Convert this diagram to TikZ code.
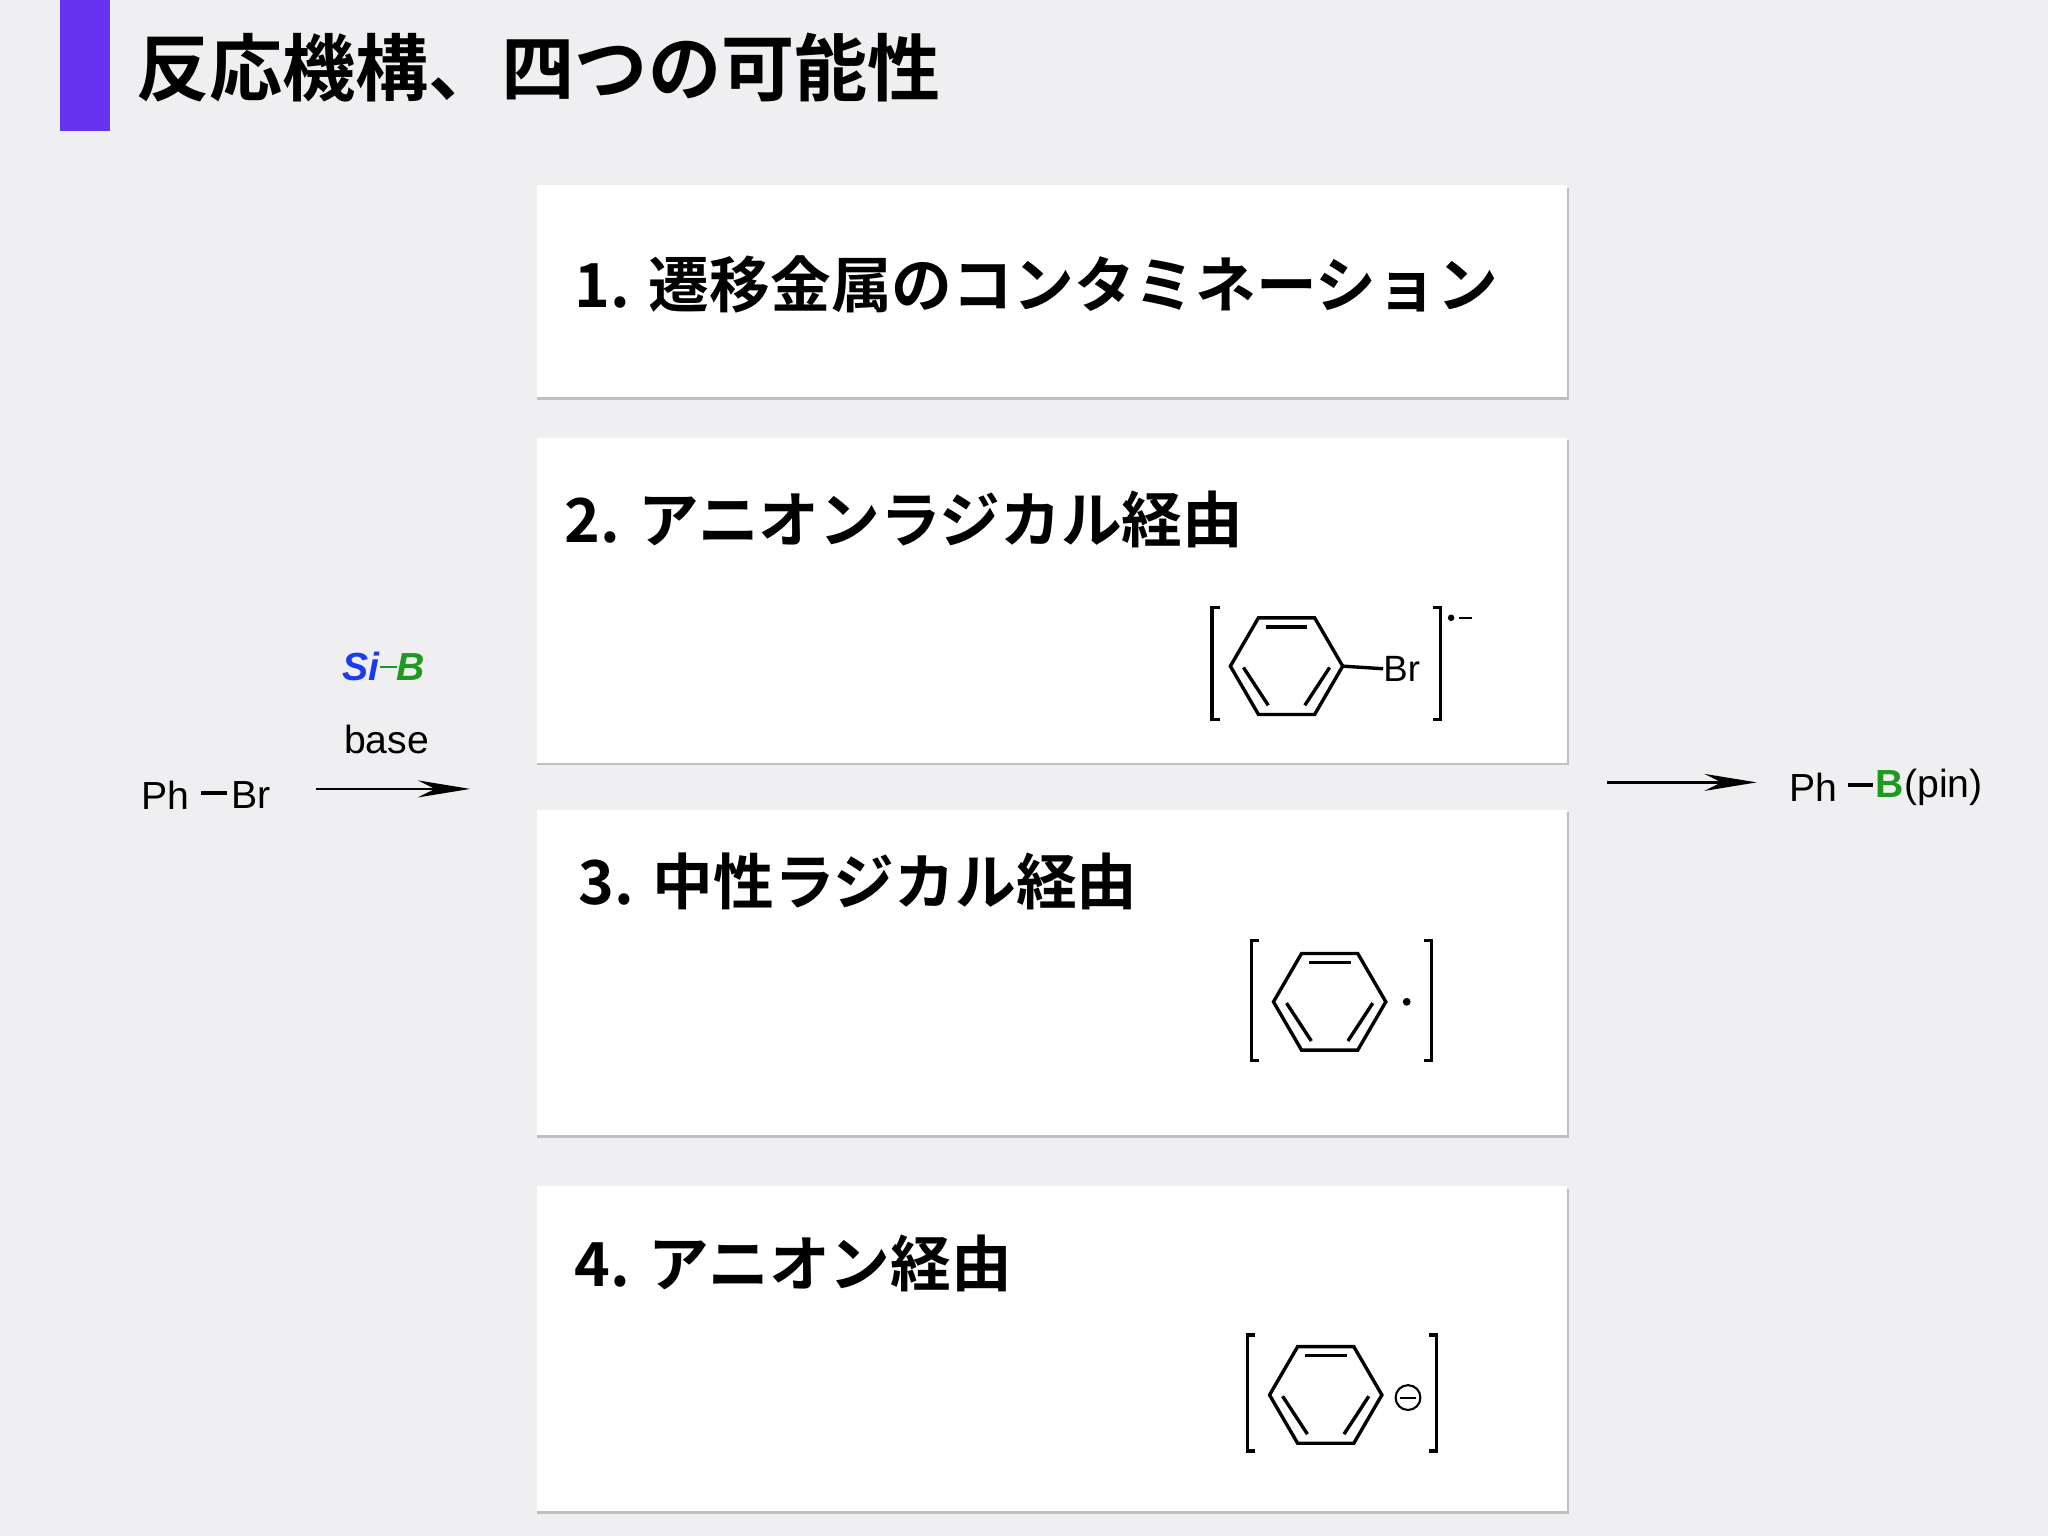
\documentclass[tikz,border=0pt]{standalone}
\usepackage{fontspec}
\setmainfont{Liberation Sans}
\newfontfamily\cjk{Noto Sans CJK JP}[BoldFont={* Bold}]
\usetikzlibrary{arrows.meta}
\definecolor{bg}{HTML}{EFEFF1}
\definecolor{bar}{HTML}{6633EE}
\definecolor{siblue}{HTML}{1A3BF0}
\definecolor{bgreen}{HTML}{1E9A1E}
\tikzset{
  card/.style={fill=white, draw=none},
  cardshadow/.style={fill=black!25, draw=none},
  head/.style={anchor=west, inner sep=0pt, font=\fontsize{46.5}{46}\selectfont\cjk\bfseries},
  lbl/.style={inner sep=0pt, font=\fontsize{30}{30}\selectfont},
  bond/.style={line width=2.6pt, line join=miter},
  brk/.style={line width=2.6pt},
  rxn/.style={line width=2pt, -{Stealth[length=40pt,width=13pt]}},
}
\newcommand{\benz}[2]{% center, name
  \begin{scope}[shift={#1}]
   \draw[bond] (-43,0)--(-21.5,37)--(21.5,37)--(43,0)--(21.5,-37)--(-21.5,-37)--cycle;
   \draw[bond] (-16,-30)--(16,-30);
   \draw[bond] (-33,1)--(-14,30) ;
   \draw[bond] (33,1)--(14,30);
   \coordinate (#2) at (43,0);
  \end{scope}}
\begin{document}
\begin{tikzpicture}[x=1pt,y=-1pt]
\fill[bg] (0,0) rectangle (1568,1176);
\useasboundingbox (0,0) rectangle (1568,1176);
\fill[bar] (46,0) rectangle (84,100);
\node[anchor=west, inner sep=0pt, font=\fontsize{56}{56}\selectfont\cjk\bfseries] (title) at (104,52) {反応機構、四つの可能性};
% cards
\foreach \t/\b in {142/304,335/584,620/869,908/1157}{
  \fill[cardshadow] (411,\t+2) rectangle (1201,\b+2);
  \fill[card] (411,\t) rectangle (1200,\b);
}
\node[head] (h1) at (440,218) {1. 遷移金属のコンタミネーション};
\node[head] (h2) at (432,398) {2. アニオンラジカル経由};
\node[head] (h3) at (443,675) {3. 中性ラジカル経由};
\node[head] (h4) at (440,967) {4. アニオン経由};
% structure 2
\benz{(985,510)}{c1}
\node[lbl, anchor=west, font=\fontsize{28}{28}\selectfont] (br) at (1059,512) {Br};
\draw[bond] (c1) -- (br.west);
\draw[brk] (934,465)--(928,465)--(928,551)--(934,551);
\draw[brk] (1097,465)--(1103,465)--(1103,551)--(1097,551);
\fill (1111,473) circle (2.5);
\draw[line width=2pt] (1117,473)--(1127,473);
% structure 3
\benz{(1018,767)}{c2}
\fill (1077,767) circle (3);
\draw[brk] (964,720)--(958,720)--(958,812)--(964,812);
\draw[brk] (1090,720)--(1096,720)--(1096,812)--(1090,812);
% structure 4
\benz{(1015,1068)}{c3}
\node[circle, draw, line width=1.6pt, minimum size=19pt, inner sep=0pt] (minus) at (1078,1070) {};
\draw[line width=1.6pt] (1072,1070)--(1084,1070);
\draw[brk] (961,1022)--(955,1022)--(955,1111)--(961,1111);
\draw[brk] (1094,1022)--(1100,1022)--(1100,1111)--(1094,1111);
% left reaction
\node[lbl, anchor=west] (ph) at (108,609) {Ph};
\draw[line width=3pt] (154,607)--(174,607);
\node[lbl, anchor=west] (phbr) at (177,609) {Br};
\coordinate (a1s) at (242,604);
\coordinate (a1e) at (360,604);
\draw[rxn] (a1s) -- (a1e);
\node[lbl, font=\fontsize{30}{30}\selectfont\bfseries\itshape] (sib) at (294,510) {\textcolor{siblue}{Si}\textcolor{bgreen}{\rule[9pt]{13pt}{2pt}B}};
\node[lbl] (base) at (296,566) {base};
% right
\coordinate (a2s) at (1230,599);
\coordinate (a2e) at (1345,599);
\draw[rxn] (a2s) -- (a2e);
\node[lbl, anchor=west] (ph2) at (1370,603) {Ph};
\draw[line width=3pt] (1415,601)--(1434,601);
\node[lbl, anchor=west] (bp) at (1436,603) {\textcolor{bgreen}{\bfseries B}(pin)};
\end{tikzpicture}
\end{document}
